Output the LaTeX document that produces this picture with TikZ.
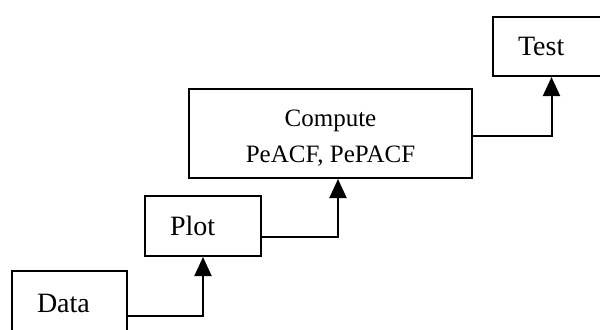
\documentclass[tikz,border=0pt]{standalone}
\usepackage{fontspec}
\setmainfont{Liberation Serif}
\usetikzlibrary{arrows.meta}
\begin{document}
\begin{tikzpicture}[x=0.5pt,y=-0.5pt,
  stepbox/.style={draw=black,line width=1pt,rectangle,inner sep=0pt,
    font=\fontsize{14pt}{16pt}\selectfont,align=left},
  flow/.style={line width=1pt,-{Triangle[width=8.5pt,length=9.5pt]}}]
\useasboundingbox (0,0) rectangle (600,329);
\clip (0,0) rectangle (600,329);
\fill[white] (0,0) rectangle (600,329);
\node[stepbox,minimum width=57.5pt,minimum height=32pt,text width=32.5pt] (Data) at (69.5,303) {Data};
\node[stepbox,minimum width=58pt,minimum height=30pt,text width=33pt] (Plot) at (203,226) {Plot};
\node[stepbox,minimum width=141.5pt,minimum height=44.5pt,align=center,
  font=\fontsize{12.5pt}{18pt}\selectfont] (Compute) at (330.5,133.5) {\rule{0pt}{13pt}Compute\\PeACF, PePACF};
\node[stepbox,minimum width=58.5pt,minimum height=29.5pt,text width=33.5pt] (Test) at (551.5,46.5) {Test};
\draw[flow] ([yshift=-6.5pt]Data.east) -| (Plot.south);
\draw[flow] ([yshift=-5.5pt]Plot.east) -| ([xshift=3.75pt]Compute.south);
\draw[flow] ([yshift=-1.25pt]Compute.east) -| (Test.south);
\end{tikzpicture}
\end{document}
